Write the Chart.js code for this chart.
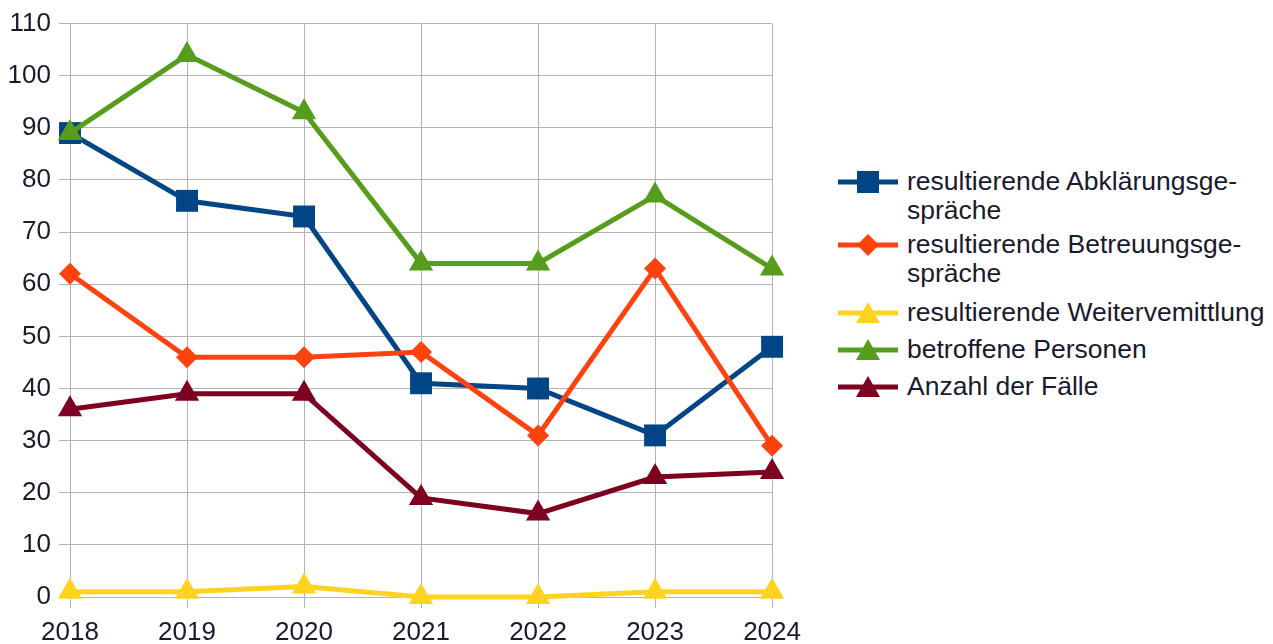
<!DOCTYPE html>
<html>
<head>
<meta charset="utf-8">
<script src="https://cdn.jsdelivr.net/npm/chart.js@4/dist/chart.umd.min.js"></script>
<style>
  html, body { margin: 0; padding: 0; background: #fff; width: 1273px; height: 644px; overflow: hidden; }
  #wrap { position: absolute; left: 0; top: 0; width: 810px; height: 660px; }
  #legend { position: absolute; left: 838px; top: 0; font-family: "Liberation Sans", Arial, sans-serif; font-size: 26.5px; color: #1a1a2e; }
  .item { position: absolute; left: 0; display: flex; align-items: flex-start; white-space: nowrap; }
  .item svg { flex: none; margin-right: 9px; }
  .item span { line-height: 29px; }
</style>
</head>
<body>
<div id="wrap"><canvas id="chart"></canvas></div>
<div id="legend"></div>
<script>
const years = ['2018', '2019', '2020', '2021', '2022', '2023', '2024'];

const abklaerung = [89, 76, 73, 41, 40, 31, 48];
const betreuung = [62, 46, 46, 47, 31, 63, 29];
const weitervermittlung = [1, 1, 2, 0, 0, 1, 1];
const betroffene = [89, 104, 93, 64, 64, 77, 63];
const faelle = [36, 39, 39, 19, 16, 23, 24];

const seriesLabels = [
  'resultierende Abklärungsge-\nspräche',
  'resultierende Betreuungsge-\nspräche',
  'resultierende Weitervemittlung',
  'betroffene Personen',
  'Anzahl der Fälle'
];
const seriesData = [abklaerung, betreuung, weitervermittlung, betroffene, faelle];
const colors = ['#004586', '#ff420e', '#ffd320', '#579d1c', '#7e0021'];
const shapes = ['rect', 'rectRot', 'triangle', 'triangle', 'triangle'];
const radii = [15.5, 11, 14, 14, 14];

const textColor = '#1a1a2e';
const gridColor = '#b3b3b3';

const datasets = seriesData.map((d, i) => ({
  label: seriesLabels[i],
  data: d,
  borderColor: colors[i],
  backgroundColor: colors[i],
  borderWidth: 5,
  pointStyle: shapes[i],
  pointRadius: radii[i],
  pointHoverRadius: radii[i],
  pointBorderWidth: 0,
  tension: 0,
  clip: false,
  order: seriesData.length - i
}));

new Chart(document.getElementById('chart'), {
  type: 'line',
  data: { labels: years, datasets: datasets },
  options: {
    responsive: true,
    maintainAspectRatio: false,
    animation: false,
    layout: { padding: { top: 22, right: 37, left: 0, bottom: 0 } },
    plugins: {
      legend: { display: false },
      tooltip: { enabled: false }
    },
    scales: {
      x: {
        offset: false,
        grid: { color: gridColor, lineWidth: 1, tickLength: 11, drawTicks: true },
        border: { color: gridColor },
        ticks: { color: textColor, padding: 9, maxRotation: 0, font: { family: 'Liberation Sans', size: 26 } },
        afterFit: s => { s.height = 63; }
      },
      y: {
        min: 0,
        max: 110,
        grid: { color: gridColor, lineWidth: 1, tickLength: 11 },
        border: { color: gridColor },
        ticks: {
          stepSize: 5,
          color: textColor,
          padding: 8,
          font: { family: 'Liberation Sans', size: 26 },
          callback: v => (v % 10 === 0 ? v : '')
        },
        afterFit: s => { s.width = 70; }
      }
    }
  }
});

// legend on the right, with wrapped labels as in the reference
const legendRows = [182, 245, 313, 350, 387];
const legend = document.getElementById('legend');
seriesLabels.forEach((lab, i) => {
  const item = document.createElement('div');
  item.className = 'item';
  item.style.top = (legendRows[i] - 15) + 'px';
  let marker;
  const c = colors[i];
  if (shapes[i] === 'rect') marker = `<rect x="19" y="4" width="22" height="22" fill="${c}"/>`;
  else if (shapes[i] === 'rectRot') marker = `<polygon points="30,4 41,15 30,26 19,15" fill="${c}"/>`;
  else marker = `<polygon points="30,4 42,25 18,25" fill="${c}"/>`;
  item.innerHTML = `<svg width="60" height="30"><line x1="0" y1="15" x2="60" y2="15" stroke="${c}" stroke-width="5"/>${marker}</svg><span>${lab.replace('\n', '<br>')}</span>`;
  legend.appendChild(item);
});
</script>
</body>
</html>
